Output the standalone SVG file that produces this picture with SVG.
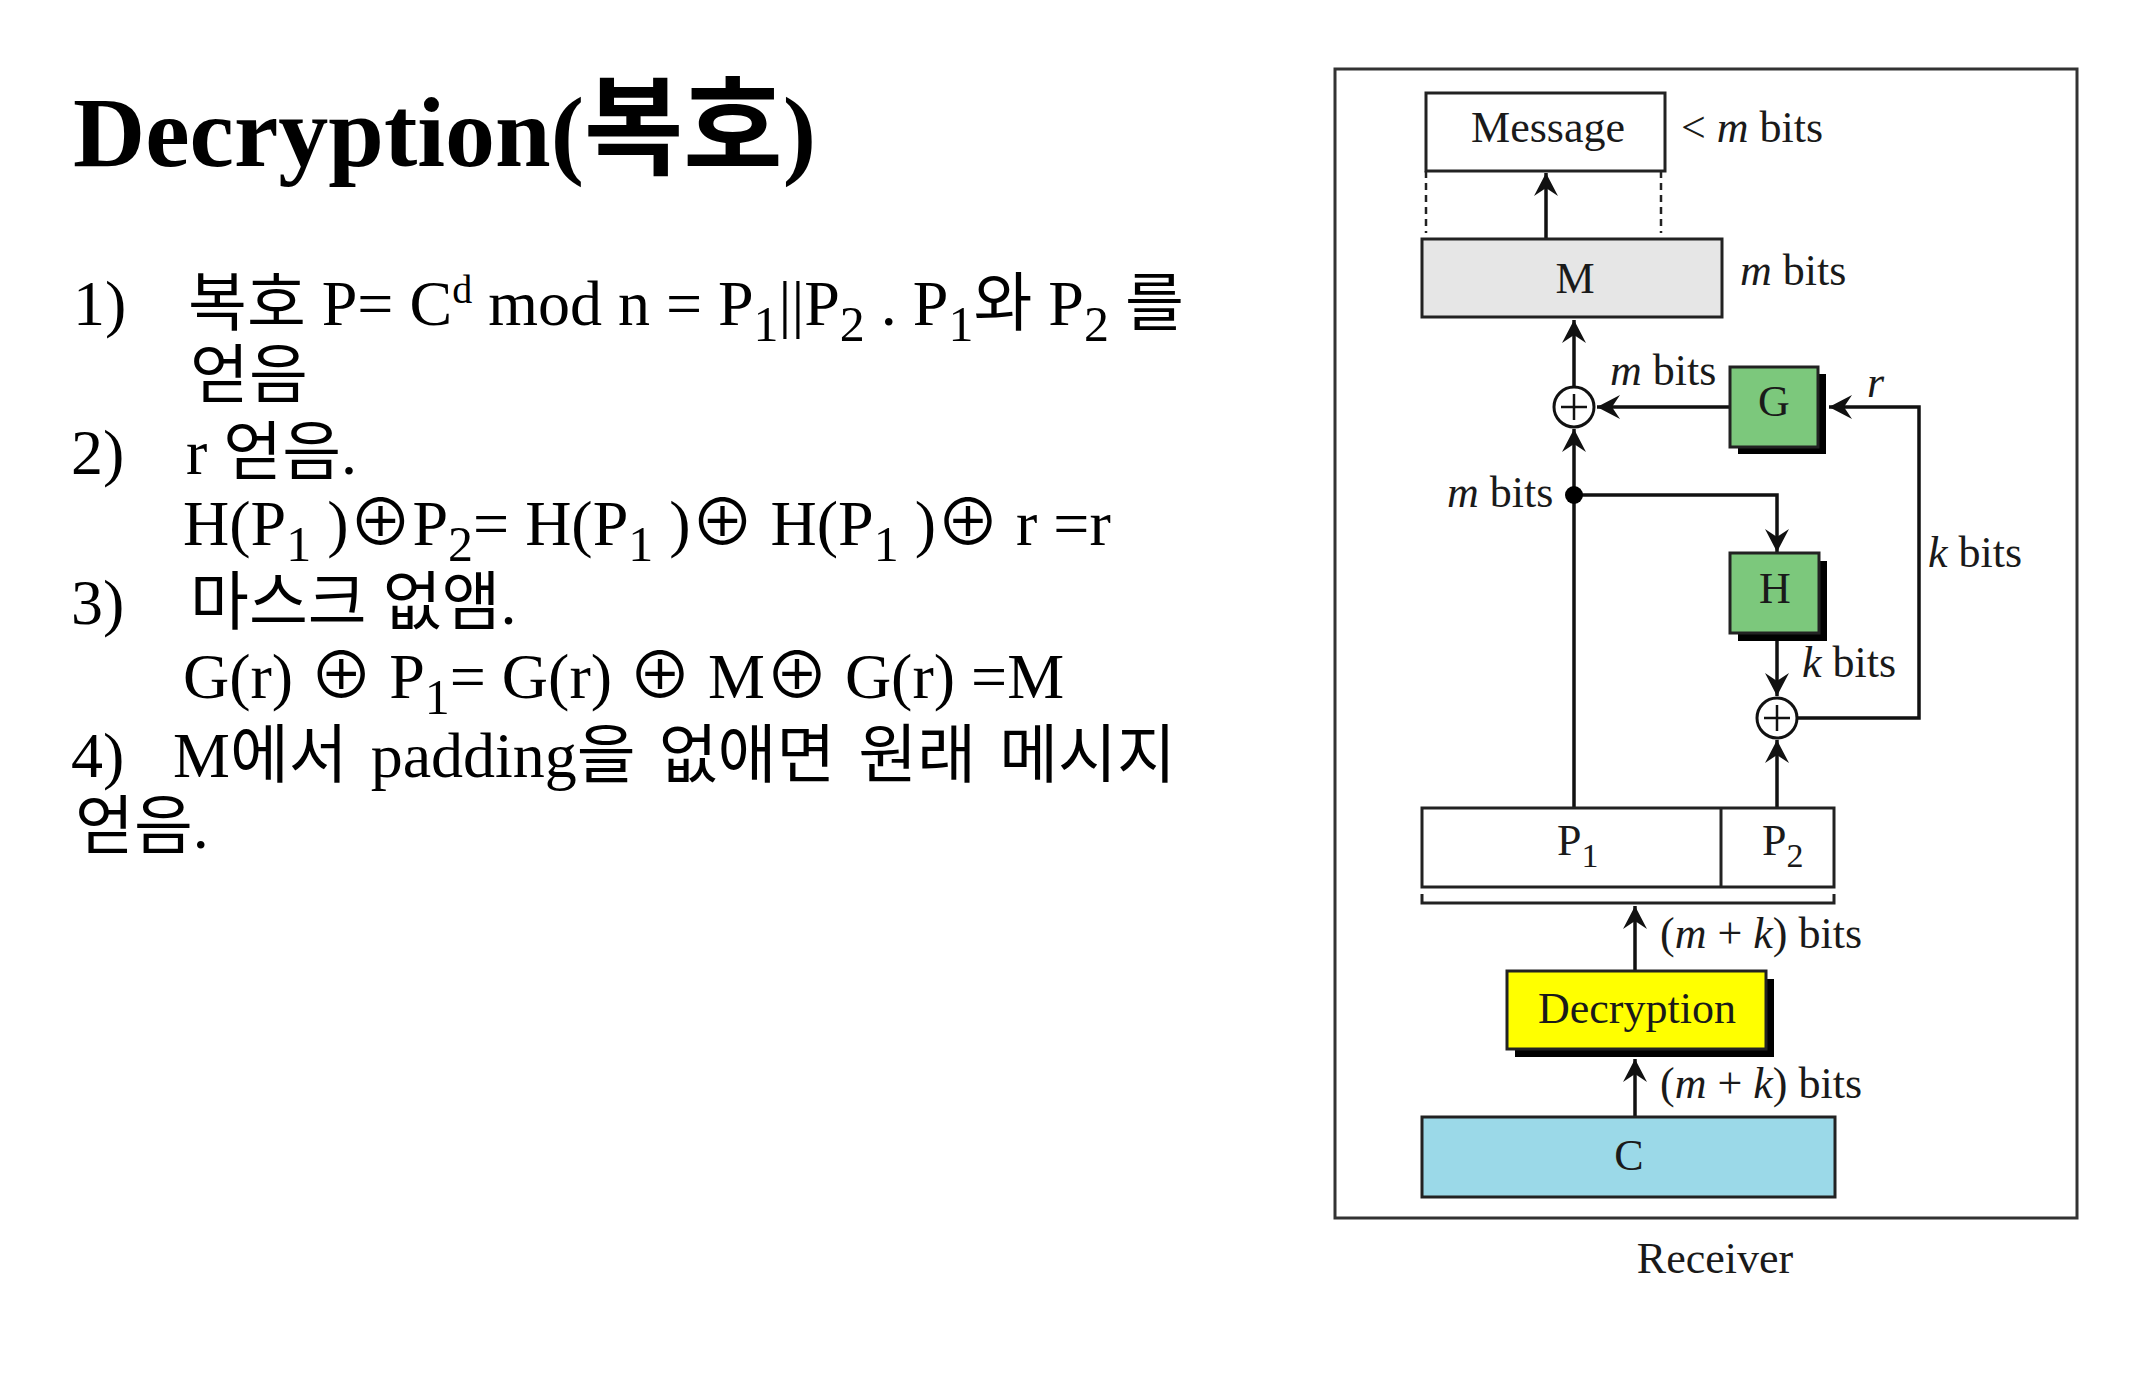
<svg xmlns="http://www.w3.org/2000/svg" width="2138" height="1384" viewBox="0 0 2138 1384">
<style>
.t{font-family:'Liberation Serif','Noto Sans CJK KR',serif;fill:#000}
.body{font-size:64px}
.title{font-size:100px;font-weight:bold}
.sub{font-size:50px}
.lbl{font-family:'Liberation Serif',serif;font-size:44px;fill:#1a1a1a}
.it{font-style:italic}
.box{stroke:#222;stroke-width:3}
.shadow{fill:#000}
.ln{stroke:#111;stroke-width:3.5;fill:none}
.dash{stroke:#222;stroke-width:2.5;stroke-dasharray:7 5;fill:none}
</style>
<defs>
<marker id="ah" viewBox="-24 -13 26 26" refX="0" refY="0" markerWidth="26" markerHeight="26" orient="auto" markerUnits="userSpaceOnUse">
<path d="M0,0 L-23,-12 L-15,0 L-23,12 Z" fill="#111"/>
</marker>
</defs>
<rect width="2138" height="1384" fill="#fff"/>

<g id="text-body" class="t">
<text class="title" x="73" y="166">Decryption(<tspan font-size="108">복호</tspan>)</text>
<g class="body">
<text x="73" y="325">1)</text>
<text x="188" y="325">복호 P= C<tspan dy="-22" font-size="40">d</tspan><tspan dy="22"> mod n = P</tspan><tspan class="sub" dy="16">1</tspan><tspan dy="-16">||P</tspan><tspan class="sub" dy="16">2</tspan><tspan dy="-16"> . P</tspan><tspan class="sub" dy="16">1</tspan><tspan dy="-16">와 P</tspan><tspan class="sub" dy="16">2</tspan><tspan dy="-16"> 를</tspan></text>
<text x="190" y="397">얻음</text>
<text x="71" y="474">2)</text>
<text x="186" y="474">r 얻음.</text>
<text x="183" y="545">H(P<tspan class="sub" dy="16">1</tspan><tspan dy="-16"> )⊕P</tspan><tspan class="sub" dy="16">2</tspan><tspan dy="-16">= H(P</tspan><tspan class="sub" dy="16">1</tspan><tspan dy="-16"> )⊕ H(P</tspan><tspan class="sub" dy="16">1</tspan><tspan dy="-16"> )⊕ r =r</tspan></text>
<text x="71" y="624">3)</text>
<text x="190" y="624">마스크 없앰.</text>
<text x="183" y="698">G(r) ⊕ P<tspan class="sub" dy="16">1</tspan><tspan dy="-16">= G(r) ⊕ M⊕ G(r) =M</tspan></text>
<text x="71" y="777">4)</text>
<text x="173" y="777" word-spacing="7">M에서 padding을 없애면 원래 메시지</text>
<text x="75" y="848">얻음.</text>
</g>
</g>

<g id="frame">
<rect x="1335" y="69" width="742" height="1149" fill="none" stroke="#333" stroke-width="3"/>
</g>

<g id="connectors">
<line class="ln" x1="1546" y1="239" x2="1546" y2="173" marker-end="url(#ah)"/>
<line class="dash" x1="1426" y1="171" x2="1426" y2="233"/>
<line class="dash" x1="1661" y1="171" x2="1661" y2="233"/>
<line class="ln" x1="1574" y1="386" x2="1574" y2="320" marker-end="url(#ah)"/>
<line class="ln" x1="1574" y1="808" x2="1574" y2="429" marker-end="url(#ah)"/>
<path class="ln" d="M1574,495 H1777 V552" marker-end="url(#ah)"/>
<line class="ln" x1="1730" y1="407" x2="1597" y2="407" marker-end="url(#ah)"/>
<path class="ln" d="M1798,718 H1919 V407 H1829" marker-end="url(#ah)"/>
<line class="ln" x1="1777" y1="641" x2="1777" y2="696" marker-end="url(#ah)"/>
<line class="ln" x1="1777" y1="808" x2="1777" y2="740" marker-end="url(#ah)"/>
<path d="M1422,894 V903 H1834 V894" fill="none" stroke="#222" stroke-width="3"/>
<line class="ln" x1="1635" y1="971" x2="1635" y2="906" marker-end="url(#ah)"/>
<line class="ln" x1="1635" y1="1117" x2="1635" y2="1059" marker-end="url(#ah)"/>
<circle cx="1574" cy="495" r="9" fill="#000"/>
</g>

<g id="message">
<rect class="box" x="1426" y="93" width="239" height="78" fill="#fff"/>
<text class="lbl" x="1548" y="142" text-anchor="middle">Message</text>
<text class="lbl" x="1681" y="142">&lt; <tspan class="it">m</tspan> bits</text>
</g>

<g id="m-block">
<rect class="box" x="1422" y="239" width="300" height="78" fill="#e6e6e6"/>
<text class="lbl" x="1575" y="293" text-anchor="middle">M</text>
<text class="lbl" x="1740" y="285"><tspan class="it">m</tspan> bits</text>
</g>

<g id="xor1">
<circle cx="1574" cy="407" r="20" fill="#fff" stroke="#111" stroke-width="3"/>
<path d="M1561,407 H1587 M1574,394 V420" stroke="#111" stroke-width="2.5"/>
<text class="lbl" x="1610" y="385"><tspan class="it">m</tspan> bits</text>
<text class="lbl" x="1447" y="507"><tspan class="it">m</tspan> bits</text>
</g>

<g id="g-func">
<rect class="shadow" x="1738" y="374" width="88" height="80"/>
<rect class="box" x="1730" y="367" width="88" height="80" fill="#7cc87c"/>
<text class="lbl" x="1774" y="416" text-anchor="middle">G</text>
<text class="lbl it" x="1867" y="397">r</text>
<text class="lbl" x="1928" y="567"><tspan class="it">k</tspan> bits</text>
</g>

<g id="h-func">
<rect class="shadow" x="1738" y="561" width="89" height="80"/>
<rect class="box" x="1730" y="553" width="89" height="80" fill="#7cc87c"/>
<text class="lbl" x="1775" y="603" text-anchor="middle">H</text>
<text class="lbl" x="1802" y="677"><tspan class="it">k</tspan> bits</text>
</g>

<g id="xor2">
<circle cx="1777" cy="718" r="20" fill="#fff" stroke="#111" stroke-width="3"/>
<path d="M1764,718 H1790 M1777,705 V731" stroke="#111" stroke-width="2.5"/>
</g>

<g id="p-block">
<rect class="box" x="1422" y="808" width="412" height="79" fill="#fff"/>
<line class="box" x1="1721" y1="808" x2="1721" y2="887"/>
<text class="lbl" x="1557" y="855">P<tspan font-size="34" dy="12">1</tspan></text>
<text class="lbl" x="1762" y="855">P<tspan font-size="34" dy="12">2</tspan></text>
<text class="lbl" x="1660" y="948">(<tspan class="it">m</tspan> + <tspan class="it">k</tspan>) bits</text>
</g>

<g id="decryption">
<rect class="shadow" x="1515" y="979" width="259" height="78"/>
<rect class="box" x="1507" y="971" width="259" height="78" fill="#ffff00"/>
<text class="lbl" x="1637" y="1023" text-anchor="middle">Decryption</text>
<text class="lbl" x="1660" y="1098">(<tspan class="it">m</tspan> + <tspan class="it">k</tspan>) bits</text>
</g>

<g id="ciphertext">
<rect class="box" x="1422" y="1117" width="413" height="80" fill="#9bd9e8"/>
<text class="lbl" x="1629" y="1170" text-anchor="middle">C</text>
</g>

<g id="receiver">
<text class="lbl" x="1715" y="1273" text-anchor="middle">Receiver</text>
</g>
</svg>
